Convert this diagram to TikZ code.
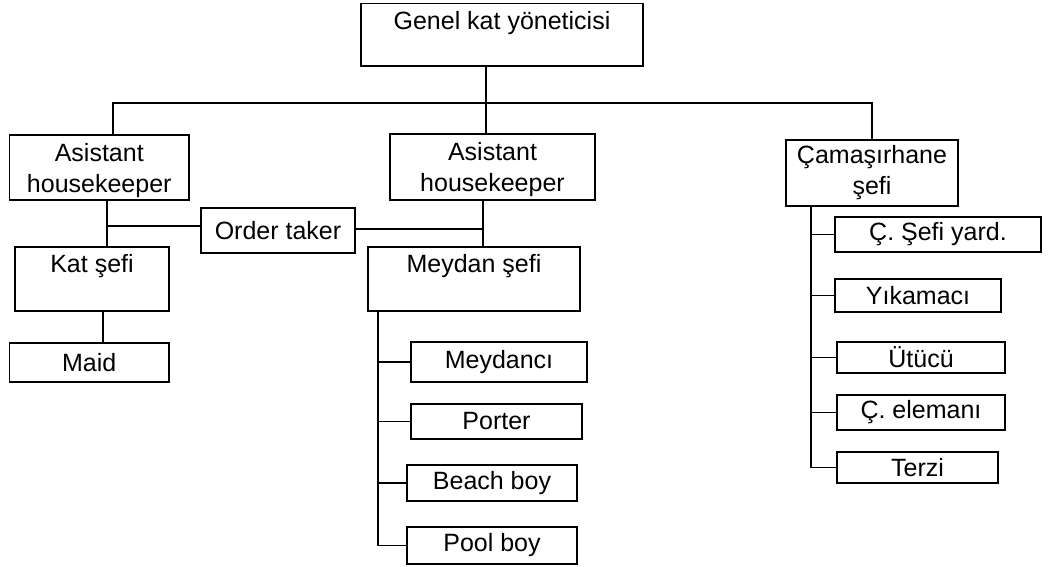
\documentclass[tikz,border=0pt]{standalone}
\usepackage{fontspec}
\setmainfont{Liberation Sans}
% invisible rule that sets the height of a first text line
\newcommand\toprule[1]{\rule{0pt}{#1}}
% invisible rule with given height and depth, for a label set at the top of a tall box
\newcommand\deepstrut[2]{\rule[-#2]{0pt}{\dimexpr#1+#2\relax}}
\begin{document}
\begin{tikzpicture}[x=1pt,y=-1pt,
  bx/.style={draw, line width=1.8pt, rectangle, inner sep=0pt, outer sep=0pt,
    align=center, font=\fontsize{25}{31}\selectfont},
  ln/.style={line width=1.8pt}]
\useasboundingbox (0,0) rectangle (1062,567);

% boxes: centre, width, height
\node[bx, minimum width=282pt, minimum height=62.5pt] (gk) at (502,34.75) {\deepstrut{20pt}{30.5pt}Genel kat yöneticisi};
\node[bx, minimum width=179.5pt, minimum height=65pt] (a1) at (99.25,167.5) {\toprule{24pt}Asistant\\housekeeper};
\node[bx, minimum width=205pt, minimum height=66pt] (a2) at (492.5,167) {\toprule{24pt}Asistant\\housekeeper};
\node[bx, minimum width=172pt, minimum height=66pt] (cs) at (872,173) {Çamaşırhane\\şefi};
\node[bx, minimum width=154pt, minimum height=45pt] (ot) at (278,230.5) {Order taker};
\node[bx, minimum width=154pt, minimum height=64pt] (ks) at (92,279) {\deepstrut{20pt}{33pt}Kat şefi};
\node[bx, minimum width=212pt, minimum height=64pt] (ms) at (474,279) {\deepstrut{20pt}{33pt}Meydan şefi};
\node[bx, minimum width=159.5pt, minimum height=39pt] (maid) at (89.25,362.5) {Maid};

\node[bx, minimum width=176pt, minimum height=40pt] (m1) at (499,362) {Meydancı};
\node[bx, minimum width=171pt, minimum height=35pt] (m2) at (496.5,421.5) {Porter};
\node[bx, minimum width=170pt, minimum height=36pt] (m3) at (492,483) {Beach boy};
\node[bx, minimum width=170pt, minimum height=37pt] (m4) at (492,545.5) {Pool boy};

\node[bx, minimum width=206pt, minimum height=35pt] (c1) at (938,234.5) {Ç. Şefi yard.};
\node[bx, minimum width=166pt, minimum height=33pt] (c2) at (918,295.5) {Yıkamacı};
\node[bx, minimum width=168pt, minimum height=31pt] (c3) at (921,357.5) {Ütücü};
\node[bx, minimum width=168pt, minimum height=35pt] (c4) at (921,412.5) {Ç. elemanı};
\node[bx, minimum width=161pt, minimum height=31pt] (c5) at (917.5,467.5) {Terzi};

% junction points
\coordinate (j0) at (485.7,102.7);
\coordinate (jL) at (113,102.7);
\coordinate (k1) at (107.3,225.7);
\coordinate (k2) at (483.3,229.3);
\coordinate (k3) at (103.3,327);
\coordinate (mx) at (378.3,311);
\coordinate (cx) at (811,206);

% top level
\draw[ln] (gk.south -| j0) -- (a2.north -| j0);
\draw[ln] (a1.north -| jL) -- (jL) -| (cs.north);

% left branch with order taker
\draw[ln] (a1.south -| k1) -- (ks.north -| k1);
\draw[ln] (k1) -- (ot.west |- k1);
\draw[ln] (ot.east |- k2) -- (k2);
\draw[ln] (a2.south -| k2) -- (ms.north -| k2);
\draw[ln] (ks.south -| k3) -- (maid.north -| k3);

% Meydan şefi staff
\draw[ln] (ms.south -| mx) |- (m4.west);
\draw[ln] (mx |- m1.west) -- (m1.west);
\draw[ln] (mx |- m2.west) -- (m2.west);
\draw[ln] (mx |- m3.west) -- (m3.west);

% Çamaşırhane şefi staff
\draw[ln] (cs.south -| cx) |- (c5.west);
\draw[ln] (cx |- c1.west) -- (c1.west);
\draw[ln] (cx |- c2.west) -- (c2.west);
\draw[ln] (cx |- c3.west) -- (c3.west);
\draw[ln] (cx |- c4.west) -- (c4.west);
\end{tikzpicture}
\end{document}
